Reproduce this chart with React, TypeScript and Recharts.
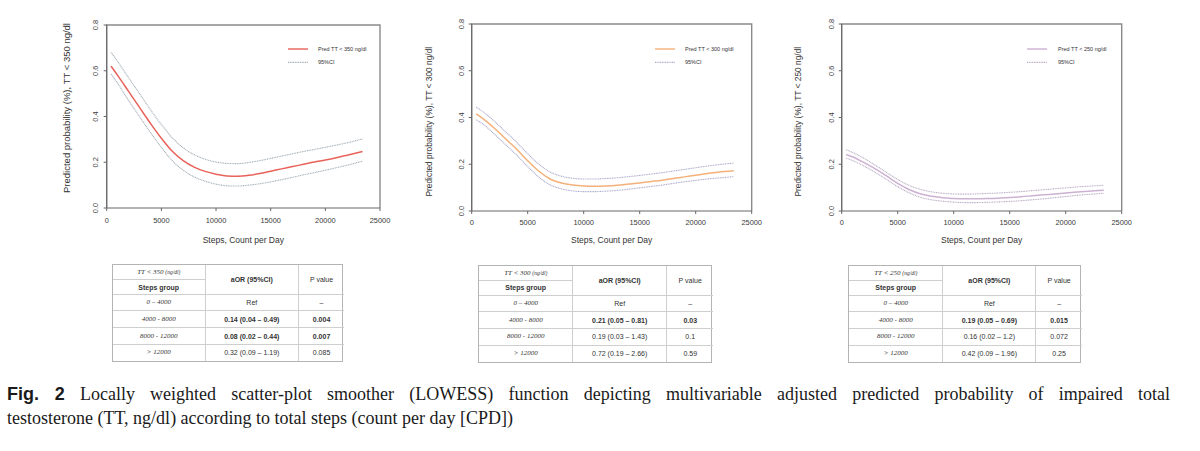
import React from 'react';
import { LineChart, Line, XAxis, YAxis, Legend, Label } from 'recharts';

// ---------- data ----------
const steps = [400, 1000, 2000, 3000, 4000, 5000, 6000, 7000, 8000, 9000, 10000, 11000, 12000, 13000, 14000, 15000, 16000, 17000, 18000, 19000, 20000, 21000, 22000, 23400];

const pred350 = [0.62, 0.58, 0.51, 0.44, 0.37, 0.305, 0.248, 0.207, 0.179, 0.16, 0.148, 0.14, 0.139, 0.143, 0.151, 0.161, 0.171, 0.181, 0.191, 0.201, 0.21, 0.22, 0.231, 0.247];
const upper350 = [0.68, 0.64, 0.57, 0.5, 0.43, 0.365, 0.307, 0.263, 0.233, 0.213, 0.201, 0.195, 0.194, 0.199, 0.207, 0.217, 0.227, 0.237, 0.247, 0.256, 0.265, 0.275, 0.285, 0.302];
const lower350 = [0.585, 0.545, 0.47, 0.4, 0.33, 0.265, 0.207, 0.165, 0.136, 0.117, 0.104, 0.097, 0.096, 0.1, 0.106, 0.114, 0.124, 0.134, 0.145, 0.155, 0.165, 0.176, 0.187, 0.205];

const pred300 = [0.415, 0.395, 0.355, 0.31, 0.265, 0.215, 0.17, 0.137, 0.12, 0.111, 0.107, 0.106, 0.107, 0.11, 0.115, 0.12, 0.126, 0.132, 0.139, 0.146, 0.153, 0.16, 0.166, 0.172];
const upper300 = [0.445, 0.425, 0.385, 0.34, 0.295, 0.245, 0.2, 0.167, 0.149, 0.14, 0.137, 0.137, 0.139, 0.142, 0.147, 0.152, 0.158, 0.164, 0.171, 0.178, 0.185, 0.192, 0.198, 0.205];
const lower300 = [0.39, 0.372, 0.33, 0.285, 0.24, 0.19, 0.145, 0.112, 0.095, 0.086, 0.083, 0.083, 0.085, 0.088, 0.093, 0.099, 0.105, 0.111, 0.118, 0.125, 0.131, 0.137, 0.141, 0.147];

const pred250 = [0.242, 0.231, 0.207, 0.18, 0.15, 0.118, 0.092, 0.074, 0.063, 0.057, 0.053, 0.052, 0.052, 0.053, 0.055, 0.058, 0.061, 0.065, 0.069, 0.073, 0.077, 0.081, 0.085, 0.089];
const upper250 = [0.262, 0.25, 0.225, 0.196, 0.165, 0.135, 0.11, 0.093, 0.082, 0.076, 0.073, 0.072, 0.073, 0.075, 0.077, 0.08, 0.083, 0.087, 0.091, 0.095, 0.099, 0.103, 0.106, 0.11];
const lower250 = [0.226, 0.215, 0.192, 0.165, 0.135, 0.104, 0.078, 0.059, 0.048, 0.042, 0.038, 0.036, 0.036, 0.037, 0.039, 0.041, 0.044, 0.048, 0.052, 0.057, 0.062, 0.067, 0.071, 0.076];

const xTicks = [0, 5000, 10000, 15000, 20000, 25000];
const yTicks = [0, 0.2, 0.4, 0.6, 0.8];

const stepGroups = ['0 – 4000', '4000 - 8000', '8000 - 12000', '> 12000'];
const aor350 = ['Ref', '0.14 (0.04 – 0.49)', '0.08 (0.02 – 0.44)', '0.32 (0.09 – 1.19)'];
const p350 = ['–', '0.004', '0.007', '0.085'];
const aor300 = ['Ref', '0.21 (0.05 – 0.81)', '0.19 (0.03 – 1.43)', '0.72 (0.19 – 2.66)'];
const p300 = ['–', '0.03', '0.1', '0.59'];
const aor250 = ['Ref', '0.19 (0.05 – 0.69)', '0.16 (0.02 – 1.2)', '0.42 (0.09 – 1.96)'];
const p250 = ['–', '0.015', '0.072', '0.25'];

// ---------- styling ----------
const SANS = '"Liberation Sans", Arial, sans-serif';
const SERIF = '"Liberation Serif", "Times New Roman", serif';

type ChartProps = {
  left: number;
  width: number;
  plotLeft: number;
  plotRight: number;
  plotTop: number;
  plotBottom: number;
  threshold: string;
  pred: number[];
  upper: number[];
  lower: number[];
  mainColor: string;
  ciColor: string;
  yTickOffset: number;
  xTickMargin: number;
  yLabelX: number;
  yLabelY: number;
  yLabelSize: number;
  legendX: number;
  legendTextDx: number;
};

function SmoothChart(p: ChartProps) {
  const H = 250;
  const rows = steps.map((s, i) => ({ steps: s, pred: p.pred[i], upper: p.upper[i], lower: p.lower[i] }));
  const yAxisWidth = p.plotLeft - p.left;
  const rightMargin = p.width - (p.plotRight - p.left);
  const xAxisHeight = 30;
  const bottomMargin = H - p.plotBottom - xAxisHeight;
  const plotCenterX = (p.plotLeft + p.plotRight) / 2 - p.left;
  const fx = p.plotLeft - p.left;
  const fy = p.plotTop;
  const fw = p.plotRight - p.plotLeft;
  const fh = p.plotBottom - p.plotTop;

  const YTick = (tp: any) => {
    const { x, y, payload } = tp;
    const cx = x - (p.yTickOffset - 3);
    return (
      <text transform={`translate(${cx},${y}) rotate(-90)`} textAnchor="middle" dy="0.35em" fontSize={7.4} fill="#3a3a3a" fontFamily={SANS}>
        {Number(payload.value).toFixed(1)}
      </text>
    );
  };

  const legendContent = () => (
    <svg width={110} height={24} style={{ display: 'block', overflow: 'visible' }}>
      <line x1={0} x2={20} y1={4} y2={4} stroke={p.mainColor} strokeWidth={1.4} />
      <text x={p.legendTextDx} y={4} dy="0.35em" fontSize={5.5} fill="#333" fontFamily={SANS}>{`Pred TT < ${p.threshold} ng/dl`}</text>
      <line x1={0} x2={20} y1={17.4} y2={17.4} stroke={p.ciColor} strokeWidth={1.1} strokeDasharray="1 0.7" />
      <text x={p.legendTextDx} y={17.4} dy="0.35em" fontSize={5.5} fill="#333" fontFamily={SANS}>95%CI</text>
    </svg>
  );

  return (
    <div style={{ position: 'absolute', left: p.left, top: 0, width: p.width, height: H }}>
      <svg width={p.width} height={H} style={{ position: 'absolute', left: 0, top: 0, pointerEvents: 'none' }}>
        <polyline
          points={`${fx},${fy + fh} ${fx},${fy} ${fx + fw},${fy} ${fx + fw},${fy + fh}`}
          fill="none"
          stroke="#8a8a8a"
          strokeWidth={1.4}
        />
      </svg>
      <LineChart width={p.width} height={H} data={rows} margin={{ top: p.plotTop, right: rightMargin, left: 0, bottom: bottomMargin }}>
        <XAxis
          dataKey="steps"
          type="number"
          domain={[0, 25000]}
          ticks={xTicks}
          interval={0}
          height={xAxisHeight}
          tickSize={3}
          tickMargin={p.xTickMargin}
          stroke="#666"
          tick={{ fontSize: 7.4, fill: '#3a3a3a', fontFamily: SANS }}
        >
          <Label
            content={() => (
              <text x={plotCenterX} y={240} dy="0.35em" textAnchor="middle" fontSize={8.5} fill="#333" fontFamily={SANS}>
                Steps, Count per Day
              </text>
            )}
          />
        </XAxis>
        <YAxis
          type="number"
          domain={[0, 0.8]}
          ticks={yTicks}
          interval={0}
          width={yAxisWidth}
          tickSize={3}
          tickMargin={0}
          stroke="#666"
          tick={YTick}
        >
          <Label
            content={() => (
              <text
                transform={`translate(${p.yLabelX},${p.yLabelY}) rotate(-90)`}
                dy="0.35em"
                textAnchor="middle"
                fontSize={p.yLabelSize}
                fill="#333"
                fontFamily={SANS}
              >
                {`Predicted probability (%), TT < ${p.threshold} ng/dl`}
              </text>
            )}
          />
        </YAxis>
        <Legend
          layout="vertical"
          align="center"
          verticalAlign="middle"
          content={legendContent}
          wrapperStyle={{ left: p.legendX - p.left, top: 49.3 - 4, width: 110, height: 24 }}
        />
        <Line type="monotone" dataKey="upper" stroke={p.ciColor} strokeWidth={1.1} strokeDasharray="1 0.7" dot={false} activeDot={false} isAnimationActive={false} />
        <Line type="monotone" dataKey="lower" stroke={p.ciColor} strokeWidth={1.1} strokeDasharray="1 0.7" dot={false} activeDot={false} isAnimationActive={false} />
        <Line type="monotone" dataKey="pred" stroke={p.mainColor} strokeWidth={1.5} dot={false} activeDot={false} isAnimationActive={false} />
      </LineChart>
    </div>
  );
}

type TableProps = {
  left: number;
  top: number;
  cols: number[];
  threshold: string;
  aor: string[];
  pv: string[];
};

function OrTable(t: TableProps) {
  const inner = '1px solid #cfcfcf';
  const cellBase: React.CSSProperties = {
    padding: 0,
    textAlign: 'center',
    verticalAlign: 'middle',
    border: inner,
    color: '#333',
    lineHeight: 1,
  };
  const sig = (v: string) => {
    const n = parseFloat(v);
    return !isNaN(n) && n < 0.05;
  };
  const total = t.cols.reduce((a, b) => a + b, 0);
  return (
    <div style={{ position: 'absolute', left: t.left, top: t.top, width: total, border: '1px solid #b4b4b4', boxSizing: 'border-box' }}>
      <table style={{ borderCollapse: 'collapse', tableLayout: 'fixed', width: '100%', borderStyle: 'hidden' }}>
        <colgroup>
          {t.cols.map((w, i) => (
            <col key={i} style={{ width: w }} />
          ))}
        </colgroup>
        <tbody>
          <tr style={{ height: 14.5 }}>
            <td style={{ ...cellBase, fontFamily: SERIF, fontStyle: 'italic', fontSize: 7 }}>
              {`TT < ${t.threshold} `}
              <span style={{ fontSize: 5.5 }}>(ng/dl)</span>
            </td>
            <td rowSpan={2} style={{ ...cellBase, fontFamily: SANS, fontWeight: 'bold', fontSize: 7 }}>aOR (95%CI)</td>
            <td rowSpan={2} style={{ ...cellBase, fontFamily: SANS, fontSize: 7 }}>P value</td>
          </tr>
          <tr style={{ height: 14.5 }}>
            <td style={{ ...cellBase, fontFamily: SANS, fontWeight: 'bold', fontSize: 7 }}>Steps group</td>
          </tr>
          {stepGroups.map((g, i) => {
            const b = sig(t.pv[i]);
            return (
              <tr key={g} style={{ height: 16.7 }}>
                <td style={{ ...cellBase, fontFamily: SERIF, fontStyle: 'italic', fontSize: 7 }}>{g}</td>
                <td style={{ ...cellBase, fontFamily: SANS, fontSize: 7, fontWeight: b ? 'bold' : 'normal' }}>{t.aor[i]}</td>
                <td style={{ ...cellBase, fontFamily: SANS, fontSize: 7, fontWeight: b ? 'bold' : 'normal' }}>{t.pv[i]}</td>
              </tr>
            );
          })}
        </tbody>
      </table>
    </div>
  );
}

export default function App() {
  return (
    <div style={{ position: 'absolute', left: 0, top: 0, width: 1200, height: 451, background: '#fff', overflow: 'hidden' }}>
      <SmoothChart
        left={40}
        width={360}
        plotLeft={106.7}
        plotRight={380}
        plotTop={25}
        plotBottom={208}
        threshold="350"
        pred={pred350}
        upper={upper350}
        lower={lower350}
        mainColor="#e8625a"
        ciColor="#a0adb4"
        yTickOffset={11.7}
        xTickMargin={6.4}
        yLabelX={27}
        yLabelY={108}
        yLabelSize={9.5}
        legendX={288.3}
        legendTextDx={30}
      />
      <SmoothChart
        left={405}
        width={370}
        plotLeft={471.7}
        plotRight={751.7}
        plotTop={24}
        plotBottom={211}
        threshold="300"
        pred={pred300}
        upper={upper300}
        lower={lower300}
        mainColor="#f4b07a"
        ciColor="#a9a8c9"
        yTickOffset={10}
        xTickMargin={6.1}
        yLabelX={24.3}
        yLabelY={121.7}
        yLabelSize={8.4}
        legendX={655}
        legendTextDx={30}
      />
      <SmoothChart
        left={775}
        width={370}
        plotLeft={841.7}
        plotRight={1121.7}
        plotTop={24}
        plotBottom={211}
        threshold="250"
        pred={pred250}
        upper={upper250}
        lower={lower250}
        mainColor="#cdb1d3"
        ciColor="#b8a9c3"
        yTickOffset={10}
        xTickMargin={6.1}
        yLabelX={23.3}
        yLabelY={121.7}
        yLabelSize={8.4}
        legendX={1027.3}
        legendTextDx={31}
      />

      <OrTable left={111.7} top={264.3} cols={[92.6, 93, 46]} threshold="350" aor={aor350} pv={p350} />
      <OrTable left={478.3} top={265} cols={[93.4, 94, 46.6]} threshold="300" aor={aor300} pv={p300} />
      <OrTable left={848.3} top={265} cols={[93.4, 93.3, 45.7]} threshold="250" aor={aor250} pv={p250} />

      <div
        style={{
          position: 'absolute',
          left: 7,
          top: 381.8,
          width: 1163,
          fontFamily: SERIF,
          fontSize: 18,
          lineHeight: '24px',
          color: '#1a1a1a',
        }}
      >
        <div style={{ textAlign: 'justify', textAlignLast: 'justify' }}>
          <span style={{ fontFamily: SANS, fontWeight: 'bold' }}>Fig. 2</span> Locally weighted scatter-plot smoother (LOWESS) function depicting multivariable adjusted predicted probability of impaired total
        </div>
        <div>testosterone (TT, ng/dl) according to total steps (count per day [CPD])</div>
      </div>
    </div>
  );
}
